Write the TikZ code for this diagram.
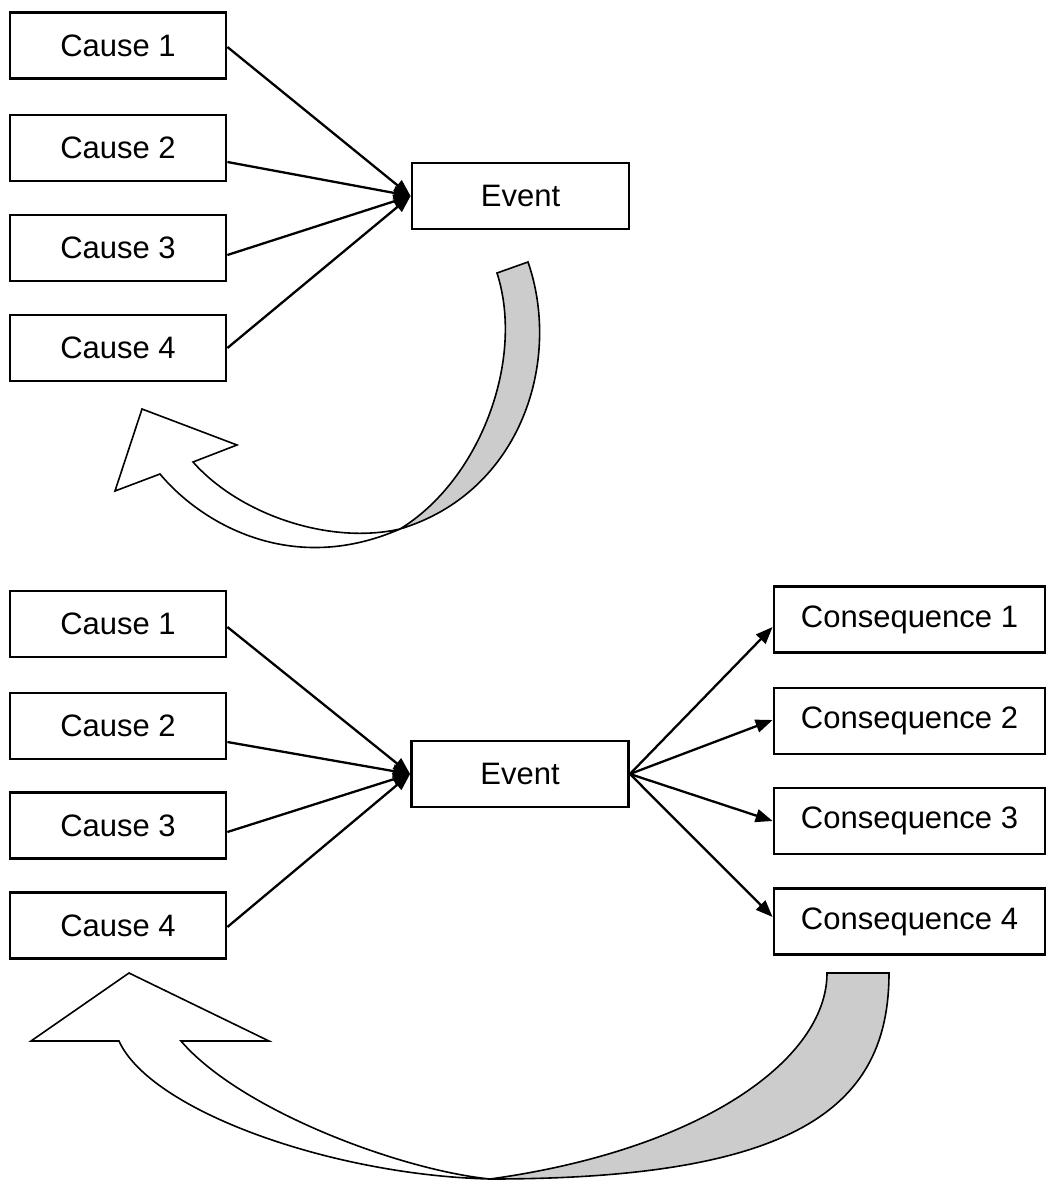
\documentclass[tikz,border=0pt]{standalone}
\usepackage{fontspec}
\setmainfont{Liberation Sans}
\usetikzlibrary{arrows.meta}
\definecolor{ribbon}{RGB}{204,204,204}
\begin{document}
\begin{tikzpicture}[x=1pt,y=-1pt,
  box/.style={draw, line width=2.8pt, minimum height=66pt, inner sep=0pt,
              font=\fontsize{31}{37}\selectfont},
  causebox/.style={box, minimum width=216pt},
  eventbox/.style={box, minimum width=217pt},
  consbox/.style={box, minimum width=271pt},
  conn/.style={line width=2.3pt, -{Triangle[length=17pt,width=13pt]}},
  ribbonline/.style={draw, line width=1.6pt, line join=miter}]
\useasboundingbox (0,0) rectangle (1046,1180);

% ---------- top diagram ----------
\node[causebox] (tc1) at (118,45.5) {Cause 1};
\node[causebox] (tc2) at (118,148) {Cause 2};
\node[causebox] (tc3) at (118,248) {Cause 3};
\node[causebox] (tc4) at (118,348) {Cause 4};
\node[eventbox] (tev) at (520.5,196) {Event};

\draw[conn] ([yshift=-1.5pt]tc1.east) -- (tev.west);
\draw[conn] ([yshift=-14pt]tc2.east) -- (tev.west);
\draw[conn] ([yshift=-7pt]tc3.east) -- (tev.west);
\draw[conn] (tc4.east) -- (tev.west);

% top curved arrow
\filldraw[ribbonline, fill=ribbon] (528,262) .. controls (562,360) and (522,492) .. (400,529)
   .. controls (480,480) and (525,360) .. (497,273) -- cycle;
\filldraw[ribbonline, fill=white] (160,474) -- (115,491) -- (142,409) -- (237,445) -- (193,462)
   .. controls (240,515) and (330,545) .. (400,529)
   .. controls (290,577) and (200,522) .. (160,474) -- cycle;

% ---------- bottom diagram ----------
\node[causebox] (bc1) at (118,624) {Cause 1};
\node[causebox] (bc2) at (118,726) {Cause 2};
\node[causebox] (bc3) at (118,825.5) {Cause 3};
\node[causebox] (bc4) at (118,925.5) {Cause 4};
\node[eventbox] (bev) at (520,774) {Event};
\node[consbox] (cq1) at (909.5,619.5) {Consequence 1};
\node[consbox] (cq2) at (909.5,721) {Consequence 2};
\node[consbox] (cq3) at (909.5,821) {Consequence 3};
\node[consbox] (cq4) at (909.5,921.5) {Consequence 4};

\draw[conn] ([yshift=-3pt]bc1.east) -- (bev.west);
\draw[conn] ([yshift=-16pt]bc2.east) -- (bev.west);
\draw[conn] ([yshift=-6.5pt]bc3.east) -- (bev.west);
\draw[conn] ([yshift=-1.5pt]bc4.east) -- (bev.west);

\draw[conn] (bev.east) -- ([yshift=-7.5pt]cq1.west);
\draw[conn] (bev.east) -- ([yshift=1pt]cq2.west);
\draw[conn] (bev.east) -- (cq3.west);
\draw[conn] (bev.east) -- ([yshift=4.5pt]cq4.west);

% bottom curved arrow
\filldraw[ribbonline, fill=ribbon] (889,973) .. controls (889,1105) and (800,1179) .. (490,1179)
   .. controls (700,1150) and (827,1060) .. (827,973) -- cycle;
\filldraw[ribbonline, fill=white] (119,1041) -- (31,1041) -- (129,973) -- (269,1041) -- (181,1041)
   .. controls (240,1110) and (400,1170) .. (490,1179)
   .. controls (330,1175) and (150,1110) .. (119,1041) -- cycle;
\end{tikzpicture}
\end{document}
